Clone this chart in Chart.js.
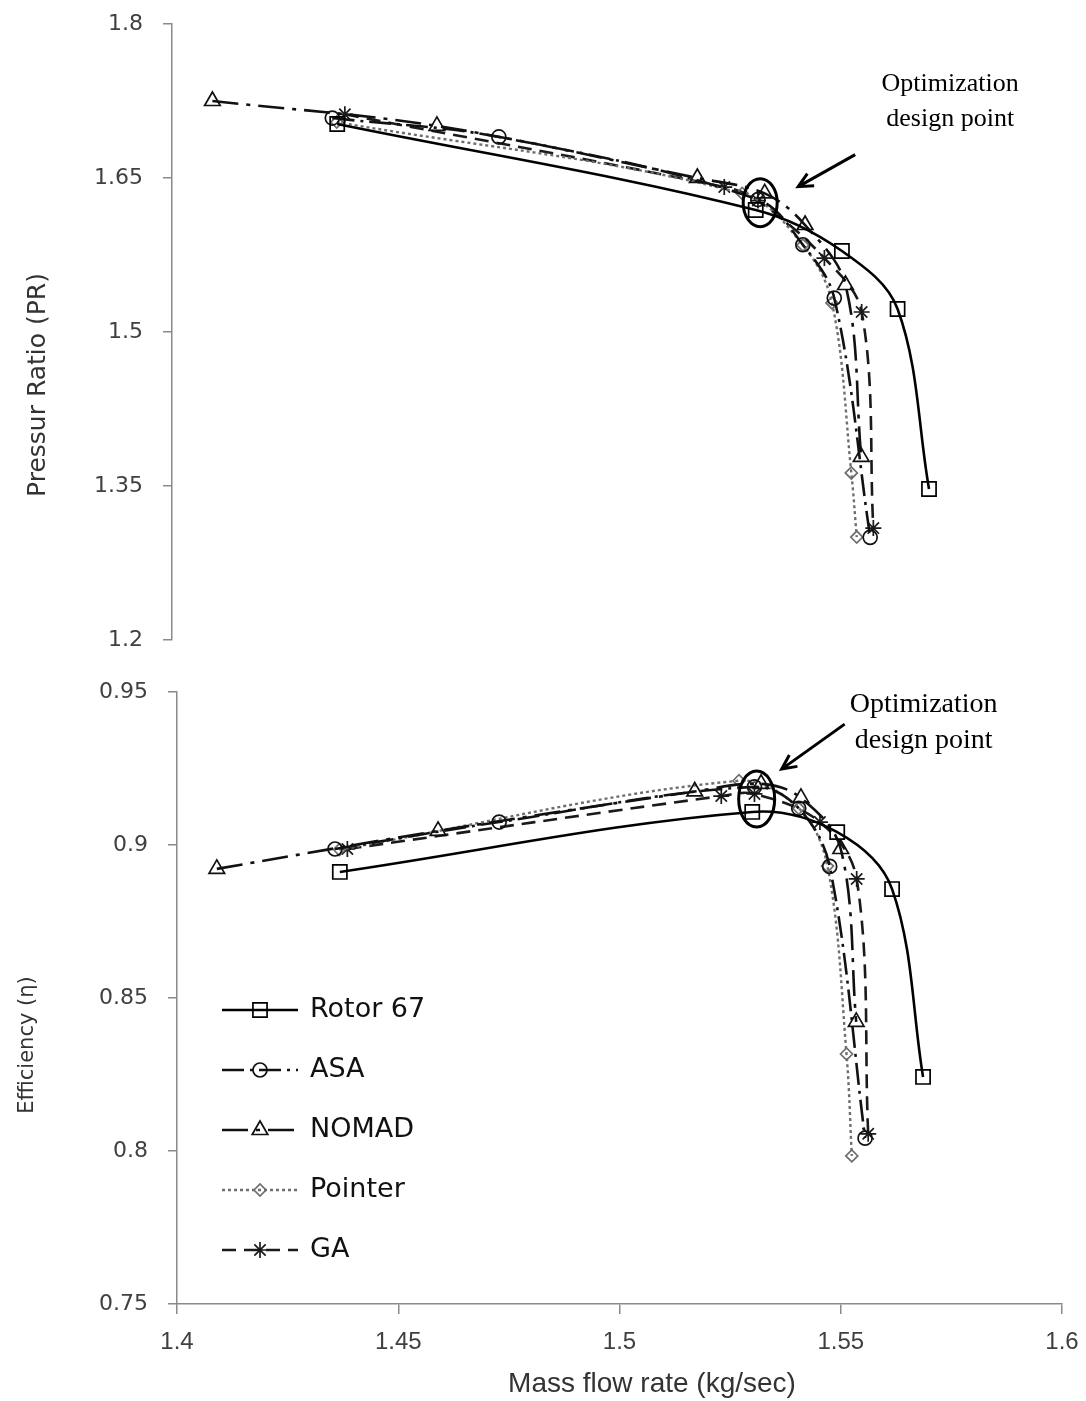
<!DOCTYPE html>
<html>
<head>
<meta charset="utf-8">
<script src="https://cdn.jsdelivr.net/npm/chart.js@4.4.1/dist/chart.umd.min.js"></script>
<style>
  html, body { margin: 0; padding: 0; background: #fff; }
  .panel { position: absolute; left: 0; width: 1086px; }
  #prBox { top: 0; height: 660px; }
  #effBox { top: 660px; height: 741px; }
</style>
</head>
<body>
<div class="panel" id="prBox"><canvas id="prChart"></canvas></div>
<div class="panel" id="effBox"><canvas id="effChart"></canvas></div>
<script>
// ---- compressor map data: mass flow (kg/sec), pressure ratio, efficiency ----
const seriesNames = ['Rotor 67', 'ASA', 'NOMAD', 'Pointer', 'GA'];

const rotorFlow   = [1.4368, 1.5300, 1.5492, 1.5616, 1.5686];
const rotorPR     = [1.7026, 1.6188, 1.5789, 1.5224, 1.3471];
const rotorEff    = [0.8912, 0.9108, 0.9042, 0.8856, 0.8242];

const asaFlow     = [1.4357, 1.4728, 1.5305, 1.5405, 1.5475, 1.5555];
const asaPR       = [1.7084, 1.6900, 1.6290, 1.5850, 1.5330, 1.3000];
const asaEff      = [0.8987, 0.9075, 0.9190, 0.9120, 0.8930, 0.8042];

const nomadFlow   = [1.4090, 1.4590, 1.5170, 1.5320, 1.5410, 1.5500, 1.5535];
const nomadPR     = [1.7250, 1.7007, 1.6500, 1.6350, 1.6042, 1.5458, 1.3783];
const nomadEff    = [0.8922, 0.9046, 0.9175, 0.9200, 0.9154, 0.8987, 0.8422];

const pointerFlow = [1.4367, 1.5270, 1.5405, 1.5470, 1.5513, 1.5525];
const pointerPR   = [1.7045, 1.6350, 1.5847, 1.5283, 1.3627, 1.3003];
const pointerEff  = [0.8985, 0.9210, 0.9120, 0.8931, 0.8317, 0.7984];

const gaFlow      = [1.4385, 1.5230, 1.5305, 1.5453, 1.5536, 1.5562];
const gaPR        = [1.7120, 1.6412, 1.6280, 1.5720, 1.5195, 1.3090];
const gaEff       = [0.8987, 0.9160, 0.9167, 0.9075, 0.8889, 0.8056];

// optimisation design point (mass flow, PR, efficiency)
const designFlow = 1.531;
const designPR   = 1.626;
const designEff  = 0.915;

// axis ticks
const flowTicks = [1.4, 1.45, 1.5, 1.55, 1.6];
const prTicks   = [1.2, 1.35, 1.5, 1.65, 1.8];
const effTicks  = [0.75, 0.8, 0.85, 0.9, 0.95];

const flows  = [rotorFlow, asaFlow, nomadFlow, pointerFlow, gaFlow];
const prs    = [rotorPR, asaPR, nomadPR, pointerPR, gaPR];
const effs   = [rotorEff, asaEff, nomadEff, pointerEff, gaEff];

// line / marker look per series
const looks = [
  { color: '#000000', width: 2.6, dash: [],             point: 'rect',     radius: 10 },
  { color: '#111111', width: 2.6, dash: [22, 6, 3, 6],  point: 'circle',   radius: 7 },
  { color: '#111111', width: 2.6, dash: [26, 8, 4, 8],  point: 'triangle', radius: 9 },
  { color: '#6e6e6e', width: 2.4, dash: [3, 3],         point: 'rectRot',  radius: 6 },
  { color: '#1a1a1a', width: 2.6, dash: [14, 8],        point: 'star',     radius: 8 }
];

const AXIS_GREY = '#8a8a8a';
const TICK_FONT = { family: 'DejaVu Sans', size: 22 };

function buildDatasets(values) {
  return seriesNames.map((name, i) => ({
    label: name,
    data: flows[i].map((x, j) => ({ x: x, y: values[i][j] })),
    showLine: true,
    tension: 0.35,
    borderColor: looks[i].color,
    borderWidth: looks[i].width,
    borderDash: looks[i].dash,
    pointStyle: looks[i].point,
    pointRadius: looks[i].radius,
    pointBorderColor: looks[i].color,
    pointBorderWidth: 1.7,
    pointBackgroundColor: 'rgba(0,0,0,0)'
  }));
}

function fixedTicks(list) {
  return scale => { scale.ticks = list.map(v => ({ value: v })); };
}
const plainLabel = v => String(+v.toFixed(2));

// titles, the design point ring with its arrow note, and the series key
const extras = {
  id: 'extras',
  afterDraw(chart, args, o) {
    const ctx = chart.ctx;
    const sx = chart.scales.x, sy = chart.scales.y;
    ctx.save();

    ctx.fillStyle = '#333';
    ctx.textAlign = 'center';
    ctx.textBaseline = 'middle';
    if (o.yTitle) {
      ctx.save();
      ctx.font = o.yTitle.size + 'px "DejaVu Sans"';
      ctx.translate(o.yTitle.x, o.yTitle.y);
      ctx.rotate(-Math.PI / 2);
      ctx.fillText(o.yTitle.text, 0, 0);
      ctx.restore();
    }
    if (o.xTitle) {
      ctx.font = '28px "Liberation Sans Narrow", "Liberation Sans"';
      ctx.fillText(o.xTitle.text, o.xTitle.x, o.xTitle.y);
    }

    // ring round the design point
    const cx = sx.getPixelForValue(o.design[0]);
    const cy = sy.getPixelForValue(o.design[1]);
    ctx.strokeStyle = '#000';
    ctx.lineWidth = 3;
    ctx.beginPath();
    ctx.ellipse(cx, cy, o.ring[0], o.ring[1], 0, 0, Math.PI * 2);
    ctx.stroke();

    // arrow from the note towards the ring
    const ax0 = cx + o.arrow[0], ay0 = cy + o.arrow[1];
    const ax1 = cx + o.arrow[2], ay1 = cy + o.arrow[3];
    const ang = Math.atan2(ay1 - ay0, ax1 - ax0);
    ctx.lineWidth = 3;
    ctx.beginPath();
    ctx.moveTo(ax0, ay0);
    ctx.lineTo(ax1, ay1);
    ctx.moveTo(ax1 - 16 * Math.cos(ang - 0.45), ay1 - 16 * Math.sin(ang - 0.45));
    ctx.lineTo(ax1, ay1);
    ctx.lineTo(ax1 - 16 * Math.cos(ang + 0.45), ay1 - 16 * Math.sin(ang + 0.45));
    ctx.stroke();

    ctx.fillStyle = '#000';
    ctx.font = o.noteSize + 'px "Liberation Serif"';
    ctx.fillText('Optimization', cx + o.note[0], cy + o.note[1]);
    ctx.fillText('design point', cx + o.note[0], cy + o.note[1] + o.note[2]);

    // series key
    if (o.key) {
      const k = o.key;
      chart.data.datasets.forEach((ds, i) => {
        const y = k.top + i * k.step;
        ctx.save();
        ctx.strokeStyle = ds.borderColor;
        ctx.lineWidth = ds.borderWidth;
        ctx.setLineDash(ds.borderDash);
        ctx.beginPath();
        ctx.moveTo(k.x0, y);
        ctx.lineTo(k.x1, y);
        ctx.stroke();
        ctx.setLineDash([]);
        ctx.fillStyle = 'rgba(0,0,0,0)';
        ctx.lineWidth = 1.7;
        Chart.helpers.drawPoint(ctx, {
          pointStyle: ds.pointStyle, radius: ds.pointRadius, rotation: 0, borderWidth: 1.7
        }, (k.x0 + k.x1) / 2, y);
        ctx.restore();
        ctx.fillStyle = '#111';
        ctx.textAlign = 'left';
        ctx.font = '27px "DejaVu Sans"';
        ctx.fillText(ds.label, k.textX, y);
      });
    }
    ctx.restore();
  }
};

function axisY(min, max, ticks, width) {
  return {
    type: 'linear', min: min, max: max,
    afterBuildTicks: fixedTicks(ticks),
    afterFit: s => { s.width = width; s.paddingTop = 0; s.paddingBottom = 0; },
    border: { display: true, color: AXIS_GREY, width: 1.5 },
    grid: { display: true, drawOnChartArea: false, drawTicks: true, tickLength: 9, color: AXIS_GREY, lineWidth: 1.5 },
    ticks: { color: '#404040', font: TICK_FONT, padding: 20, callback: plainLabel }
  };
}

new Chart(document.getElementById('prChart'), {
  type: 'scatter',
  data: { datasets: buildDatasets(prs) },
  plugins: [extras],
  options: {
    responsive: true, maintainAspectRatio: false, animation: false, devicePixelRatio: 1,
    layout: { padding: { top: 24, right: 16, bottom: 20, left: 0 } },
    plugins: {
      legend: { display: false }, tooltip: { enabled: false },
      extras: {
        yTitle: { text: 'Pressur Ratio (PR)', x: 38, y: 385, size: 25 },
        design: [designFlow, designPR], ring: [17, 24],
        arrow: [95, -48, 38, -16],
        note: [190, -118, 35], noteSize: 26
      }
    },
    scales: {
      x: { type: 'linear', min: 1.4, max: 1.6, display: false },
      y: axisY(1.2, 1.8, prTicks, 172)
    }
  }
});

new Chart(document.getElementById('effChart'), {
  type: 'scatter',
  data: { datasets: buildDatasets(effs) },
  plugins: [extras],
  options: {
    responsive: true, maintainAspectRatio: false, animation: false, devicePixelRatio: 1,
    layout: { padding: { top: 32, right: 24, bottom: 0, left: 0 } },
    plugins: {
      legend: { display: false }, tooltip: { enabled: false },
      extras: {
        yTitle: { text: 'Efficiency (\u03B7)', x: 28, y: 385, size: 21 },
        xTitle: { text: 'Mass flow rate (kg/sec)', x: 652, y: 724 },
        design: [designFlow, designEff], ring: [18, 28],
        arrow: [88, -75, 25, -30],
        note: [167, -94, 36], noteSize: 28,
        key: { top: 350, step: 60, x0: 222, x1: 298, textX: 310 }
      }
    },
    scales: {
      x: {
        type: 'linear', min: 1.4, max: 1.6,
        afterBuildTicks: fixedTicks(flowTicks),
        afterFit: s => { s.height = 97; s.paddingLeft = 0; s.paddingRight = 0; },
        border: { display: true, color: AXIS_GREY, width: 1.5 },
        grid: { display: true, drawOnChartArea: false, drawTicks: true, tickLength: 10, color: AXIS_GREY, lineWidth: 1.5 },
        ticks: { color: '#404040', font: { family: '"Liberation Sans Narrow", "Liberation Sans"', size: 24 }, padding: 14, callback: plainLabel }
      },
      y: axisY(0.75, 0.95, effTicks, 177)
    }
  }
});
</script>
</body>
</html>
